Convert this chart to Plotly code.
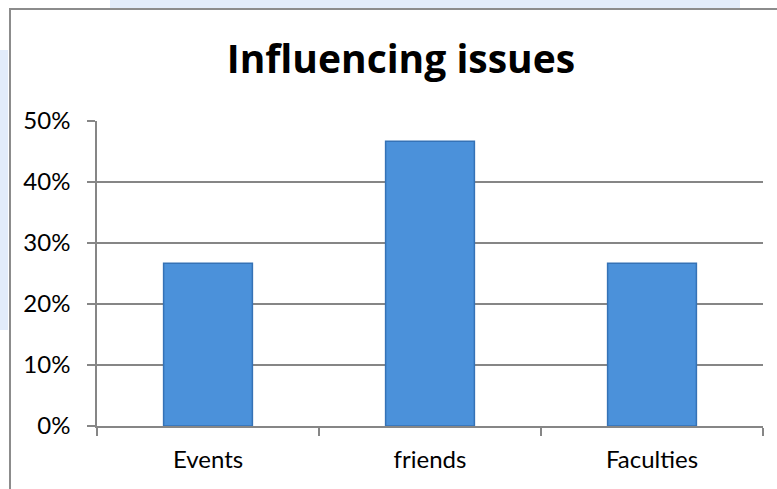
import plotly.graph_objects as go

categories = ["Events", "friends", "Faculties"]
values = [0.267, 0.467, 0.267]
y_ticks = [0, 0.1, 0.2, 0.3, 0.4, 0.5]
y_tick_labels = ["0%", "10%", "20%", "30%", "40%", "50%"]
title_text = "Influencing issues"

W, H = 777, 489
L, R, T, B = 97, 14, 121, 63
pw, ph = W - L - R, H - T - B

def px(x):
    return (x - L) / pw

def py(y):
    return (H - B - y) / ph

grid = "#868686"
font = "Lato, 'Open Sans', sans-serif"

fig = go.Figure()
fig.add_trace(go.Bar(
    x=categories, y=values,
    marker=dict(color="#4b91da", line=dict(color="#3572b6", width=1.5)),
    width=0.4,
    hoverinfo="skip",
))

shapes = [
    # faint decorative background strips
    dict(type="rect", xref="paper", yref="paper", layer="below",
         x0=px(0), x1=px(8), y0=py(330), y1=py(50),
         fillcolor="rgba(190,212,245,0.45)", line=dict(width=0)),
    dict(type="rect", xref="paper", yref="paper", layer="below",
         x0=px(110), x1=px(740), y0=py(8), y1=py(0),
         fillcolor="rgba(190,212,245,0.45)", line=dict(width=0)),
    # chart border
    dict(type="rect", xref="paper", yref="paper", layer="below",
         x0=px(10), x1=px(800), y0=py(520), y1=py(9),
         fillcolor="white", line=dict(color="#8c8c8c", width=2)),
]

fig.update_layout(
    width=W, height=H,
    margin=dict(l=L, r=R, t=T, b=B, autoexpand=False),
    paper_bgcolor="white",
    plot_bgcolor="rgba(0,0,0,0)",
    showlegend=False,
    bargap=0.6,
    shapes=shapes,
    title=dict(text="<b>" + title_text + "</b>", x=401 / W,
               xanchor="center", y=1 - 59 / H, yanchor="middle",
               font=dict(family="'Open Sans', Lato, sans-serif", size=39, color="black")),
    font=dict(family=font, color="black"),
)
fig.update_xaxes(
    showline=True, linecolor=grid, linewidth=1.5,
    ticks="outside", tickson="boundaries", ticklen=8, tickcolor=grid, tickwidth=1.5,
    tickfont=dict(size=24, family=font, color="black"),
    ticklabelstandoff=11, automargin=False,
    showgrid=False, zeroline=False, fixedrange=True,
)
fig.update_yaxes(
    range=[0, 0.5], tickvals=y_ticks, ticktext=y_tick_labels,
    showline=True, linecolor=grid, linewidth=1.5,
    ticks="outside", ticklen=8, tickcolor=grid, tickwidth=1.5,
    showgrid=True, gridcolor=grid, gridwidth=1.5,
    zeroline=False, automargin=False,
    tickfont=dict(size=24, family=font, color="black"),
    ticklabelstandoff=12, fixedrange=True,
)

fig.write_html("out.html", config={"displayModeBar": False},
               post_script="document.body.style.margin='0';document.body.style.overflow='hidden';")
